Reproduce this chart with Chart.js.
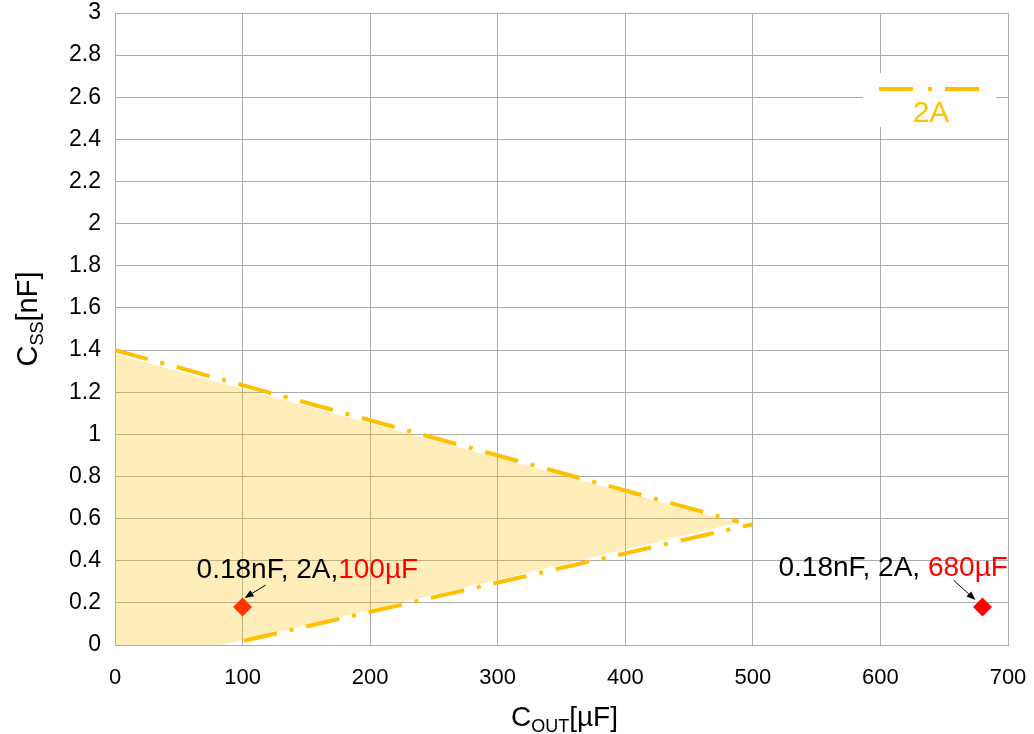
<!DOCTYPE html>
<html>
<head>
<meta charset="utf-8">
<script src="https://cdn.jsdelivr.net/npm/chart.js@4.4.0/dist/chart.umd.min.js"></script>
<style>
  html, body { margin: 0; padding: 0; background: #fff; }
  canvas { display: block; }
</style>
</head>
<body>
<canvas id="cssChart" width="1034" height="734"></canvas>
<script>
// =================== DATA ===================
const xTicks = [0, 100, 200, 300, 400, 500, 600, 700];
const yTicks = [0, 0.2, 0.4, 0.6, 0.8, 1, 1.2, 1.4, 1.6, 1.8, 2, 2.2, 2.4, 2.6, 2.8, 3];

const seriesName = "2A";

// upper / lower limit lines of the 2A region
const upperX = [0, 489];
const upperY = [1.40, 0.585];
const lowerX = [101, 500];
const lowerY = [0.02, 0.574];

// shaded region (slightly inside the limit lines)
const areaTopX = [0, 488];
const areaTopY = [1.38, 0.58];
const areaBottomX = [0, 84, 488];
const areaBottomY = [0, 0, 0.58];

// marked operating points
const markX = [100, 680];
const markY = [0.18, 0.18];

// =================== STYLE ===================
const FONT = '"Liberation Sans", Arial, sans-serif';
const GOLD = "#FFC000";
const GRID = "#ABABAB";
const DASH_DOT = [34, 13, 4, 13];

const toPts = (xs, ys) => xs.map((x, i) => ({ x: x, y: ys[i] }));

// =================== PLUGINS ===================
function drawArrow(ctx, x1, y1, x2, y2) {
  const ang = Math.atan2(y2 - y1, x2 - x1);
  const len = 9, half = 3.5;
  ctx.save();
  ctx.strokeStyle = "#000";
  ctx.fillStyle = "#000";
  ctx.lineWidth = 1;
  ctx.beginPath();
  ctx.moveTo(x1, y1);
  ctx.lineTo(x2 - Math.cos(ang) * len, y2 - Math.sin(ang) * len);
  ctx.stroke();
  ctx.beginPath();
  ctx.moveTo(x2, y2);
  ctx.lineTo(x2 - Math.cos(ang) * len - Math.sin(ang) * half, y2 - Math.sin(ang) * len + Math.cos(ang) * half);
  ctx.lineTo(x2 - Math.cos(ang) * len + Math.sin(ang) * half, y2 - Math.sin(ang) * len - Math.cos(ang) * half);
  ctx.closePath();
  ctx.fill();
  ctx.restore();
}

// text pieces drawn left to right, each with own colour / size / baseline shift
function drawRuns(ctx, x, y, runs) {
  runs.forEach((r) => {
    ctx.font = r.size + "px " + FONT;
    ctx.fillStyle = r.color || "#000";
    ctx.fillText(r.text, x, y + (r.dy || 0));
    x += ctx.measureText(r.text).width;
  });
}
function runsWidth(ctx, runs) {
  let w = 0;
  runs.forEach((r) => {
    ctx.font = r.size + "px " + FONT;
    w += ctx.measureText(r.text).width;
  });
  return w;
}

const extrasPlugin = {
  id: "extras",
  afterDatasetsDraw(chart) {
    const ctx = chart.ctx;
    const area = chart.chartArea;

    // legend box, top right
    const lx = area.right - 145, ly = area.top + 60;
    ctx.save();
    ctx.fillStyle = "#fff";
    ctx.fillRect(lx, ly, 133, 54);
    ctx.strokeStyle = GOLD;
    ctx.lineWidth = 4;
    ctx.setLineDash([34, 15, 4, 13]);
    ctx.beginPath();
    ctx.moveTo(lx + 16, ly + 16);
    ctx.lineTo(lx + 117, ly + 16);
    ctx.stroke();
    ctx.setLineDash([]);
    ctx.font = "30px " + FONT;
    ctx.fillStyle = GOLD;
    ctx.textAlign = "center";
    ctx.textBaseline = "alphabetic";
    ctx.fillText(seriesName, lx + 68, ly + 49);
    ctx.restore();
  },
  afterDraw(chart) {
    const ctx = chart.ctx;
    const area = chart.chartArea;
    const xs = chart.scales.x, ys = chart.scales.y;

    ctx.save();
    ctx.textAlign = "left";
    ctx.textBaseline = "alphabetic";

    // point annotations
    const p0x = xs.getPixelForValue(markX[0]), p0y = ys.getPixelForValue(markY[0]);
    const p1x = xs.getPixelForValue(markX[1]), p1y = ys.getPixelForValue(markY[1]);
    drawRuns(ctx, p0x - 46, p0y - 29, [
      { text: markY[0] + "nF, " + seriesName + ",", size: 28 },
      { text: markX[0] + "µF", size: 28, color: "#FF0000" }
    ]);
    drawArrow(ctx, p0x + 23, p0y - 22, p0x + 2, p0y - 9);
    drawRuns(ctx, p1x - 204, p1y - 31, [
      { text: markY[1] + "nF, " + seriesName + ", ", size: 28 },
      { text: markX[1] + "µF", size: 28, color: "#FF0000" }
    ]);
    drawArrow(ctx, p1x - 29, p1y - 27, p1x - 7, p1y - 7);

    // x axis title  C_OUT[µF]
    const xRuns = [
      { text: "C", size: 28 },
      { text: "OUT", size: 18, dy: 6 },
      { text: "[µF]", size: 28 }
    ];
    const xw = runsWidth(ctx, xRuns);
    drawRuns(ctx, (area.left + area.right) / 2 + 3 - xw / 2, 726, xRuns);

    // y axis title  C_SS[nF], rotated
    const yRuns = [
      { text: "C", size: 29 },
      { text: "SS", size: 18, dy: 6 },
      { text: "[nF]", size: 29 }
    ];
    const yw = runsWidth(ctx, yRuns);
    ctx.translate(37, 319);
    ctx.rotate(-Math.PI / 2);
    drawRuns(ctx, -yw / 2, 0, yRuns);
    ctx.restore();
  }
};

// =================== CHART ===================
Chart.defaults.font.family = FONT;
Chart.defaults.color = "#000";

new Chart(document.getElementById("cssChart"), {
  type: "scatter",
  data: {
    datasets: [
      {
        label: "area top",
        data: toPts(areaTopX, areaTopY),
        showLine: true,
        borderWidth: 0,
        borderColor: "rgba(0,0,0,0)",
        pointRadius: 0,
        backgroundColor: "rgba(255,192,0,0.27)",
        fill: "+1"
      },
      {
        label: "area bottom",
        data: toPts(areaBottomX, areaBottomY),
        showLine: true,
        borderWidth: 0,
        borderColor: "rgba(0,0,0,0)",
        pointRadius: 0,
        fill: false
      },
      {
        label: seriesName,
        data: toPts(upperX, upperY),
        showLine: true,
        borderColor: GOLD,
        borderWidth: 4,
        borderDash: DASH_DOT,
        borderCapStyle: "butt",
        pointRadius: 0,
        fill: false
      },
      {
        label: seriesName + " low",
        data: toPts(lowerX, lowerY),
        showLine: true,
        borderColor: GOLD,
        borderWidth: 4,
        borderDash: DASH_DOT,
        borderCapStyle: "butt",
        pointRadius: 0,
        fill: false
      },
      {
        label: "points",
        data: toPts(markX, markY),
        showLine: false,
        pointStyle: "rectRot",
        pointRadius: 9.5,
        backgroundColor: "#FF0000",
        borderColor: "#FF0000",
        borderWidth: 0
      }
    ]
  },
  options: {
    responsive: false,
    animation: false,
    layout: { padding: { top: 13, right: 26, left: 0, bottom: 0 } },
    plugins: {
      legend: { display: false },
      tooltip: { enabled: false }
    },
    scales: {
      x: {
        type: "linear",
        min: 0,
        max: 700,
        afterBuildTicks: (s) => { s.ticks = xTicks.map((v) => ({ value: v })); },
        afterFit: (s) => {
          s.height = 89;
          s.paddingLeft = 0;
          s.paddingRight = 0;
        },
        ticks: { font: { size: 22 }, padding: 20, maxRotation: 0 },
        grid: { color: GRID, lineWidth: 1, drawTicks: false },
        border: { color: GRID }
      },
      y: {
        type: "linear",
        min: 0,
        max: 3,
        afterBuildTicks: (s) => { s.ticks = yTicks.map((v) => ({ value: v })); },
        afterFit: (s) => {
          s.width = 115;
          s.paddingTop = 0;
          s.paddingBottom = 0;
        },
        ticks: {
          font: { size: 23 },
          padding: 14,
          callback: (v) => String(+v.toFixed(1))
        },
        grid: { color: GRID, lineWidth: 1, drawTicks: false },
        border: { color: GRID }
      }
    }
  },
  plugins: [extrasPlugin]
});
</script>
</body>
</html>
